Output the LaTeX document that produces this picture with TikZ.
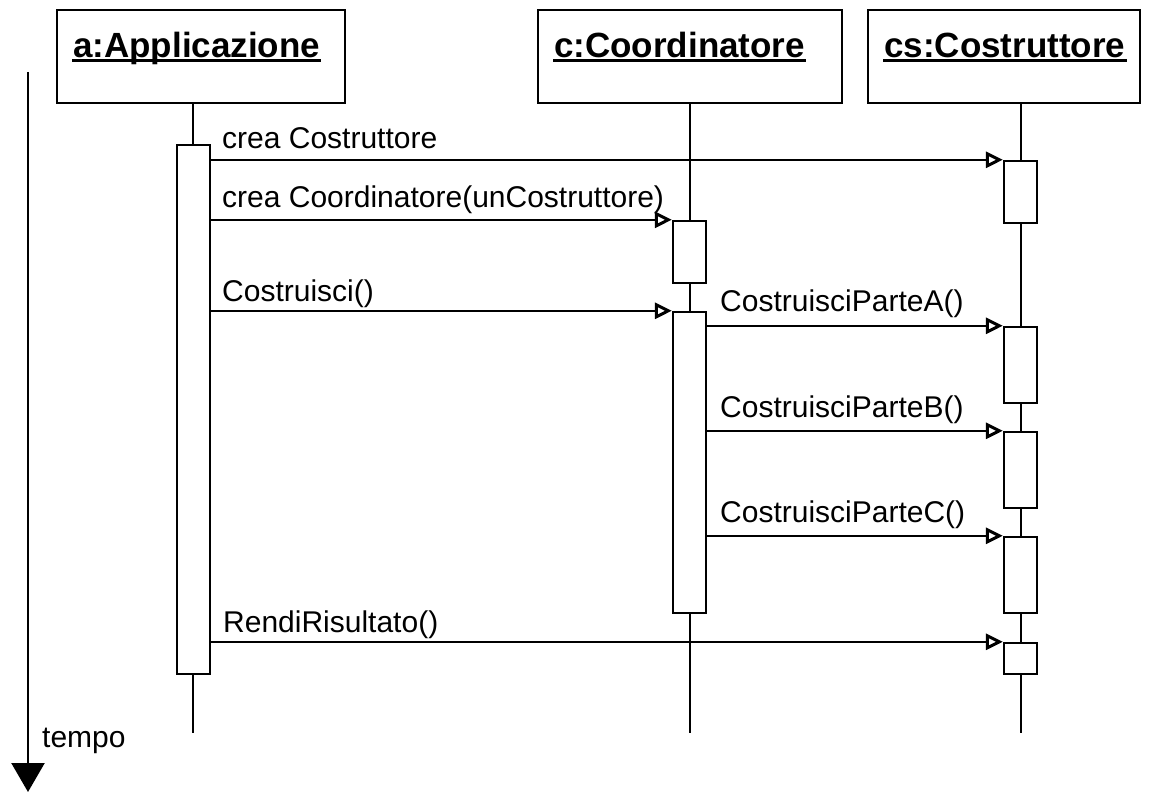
\documentclass[tikz,border=0pt]{standalone}
\usepackage{fontspec}
\setmainfont{Liberation Sans}
\usetikzlibrary{arrows.meta,calc}

\begin{document}
\begin{tikzpicture}[x=1pt,y=-1pt,line width=2.4pt,
  obj/.style={draw,fill=white,inner sep=0pt},
  act/.style={draw,fill=white,inner sep=0pt,minimum width=33pt},
  ttl/.style={inner sep=0pt,font=\fontsize{35}{42}\selectfont\bfseries},
  lbl/.style={inner sep=0pt,anchor=base west,font=\fontsize{30}{36}\selectfont},
  msg/.style={-{Triangle[open,length=17pt,width=16pt,line width=3pt]}},
  life/.style={line width=2.4pt}]
\useasboundingbox (0,0) rectangle (1149,792);

% object boxes
\node[obj,minimum width=288pt,minimum height=93pt] (a)  at (201,56.5) {};
\node[obj,minimum width=304pt,minimum height=93pt] (c)  at (690,56.5) {};
\node[obj,minimum width=272pt,minimum height=93pt] (cs) at (1004,56.5) {};

% object names, underlined
\node[ttl,anchor=base west] (aT)  at (72,58)  {a:Applicazione};
\node[ttl,anchor=base west] (cT)  at (553,58) {c:Coordinatore};
\node[ttl,anchor=base west] (csT) at (883,58) {cs:Costruttore};
\foreach \t in {aT,cT,csT}
  \draw ($(\t.base west)+(0,2.5)$) -- ($(\t.base east)+(0,2.5)$);

% lifelines
\coordinate (aEnd)  at (193,733);
\coordinate (cEnd)  at (690,733);
\coordinate (csEnd) at (1021,733);
\draw[life] (a.south -| aEnd) -- (aEnd);
\draw[life] (c.south -| cEnd) -- (cEnd);
\draw[life] (cs.south -| csEnd) -- (csEnd);

% activation bars
\node[act,minimum height=529pt] (aA)   at (193.5,409.5) {};
\node[act,minimum height=62pt]  (cA1)  at (689.5,252)   {};
\node[act,minimum height=301pt] (cA2)  at (689.5,462.5) {};
\node[act,minimum height=62pt]  (csA1) at (1020.5,192)  {};
\node[act,minimum height=76pt]  (csA2) at (1020.5,365)  {};
\node[act,minimum height=76pt]  (csA3) at (1020.5,470)  {};
\node[act,minimum height=76pt]  (csA4) at (1020.5,575)  {};
\node[act,minimum height=31pt]  (csA5) at (1020.5,658.5) {};

% messages
\draw[msg] (aA.east |- csA1.north) -- (csA1.north west);
\draw[msg] (aA.east |- cA1.north)  -- (cA1.north west);
\draw[msg] (aA.east |- cA2.north)  -- (cA2.north west);
\draw[msg] (cA2.east |- csA2.north) -- (csA2.north west);
\draw[msg] (cA2.east |- csA3.north) -- (csA3.north west);
\draw[msg] (cA2.east |- csA4.north) -- (csA4.north west);
\draw[msg] (aA.east |- csA5.north) -- (csA5.north west);

% message labels
\node[lbl] (l1) at (221,148) {crea Costruttore};
\node[lbl] (l2) at (221,207) {crea Coordinatore(unCostruttore)};
\node[lbl] (l3) at (221,301) {Costruisci()};
\node[lbl] (l4) at (719,311) {CostruisciParteA()};
\node[lbl] (l5) at (719,417) {CostruisciParteB()};
\node[lbl] (l6) at (719,522) {CostruisciParteC()};
\node[lbl] (l7) at (222,632) {RendiRisultato()};

% time axis
\coordinate (t0) at (28,72);
\coordinate (t1) at (28,792);
\draw[-{Triangle[length=29pt,width=33pt]}] (t0) -- (t1);
\node[lbl] (tl) at (41,747) {tempo};
\end{tikzpicture}
\end{document}
